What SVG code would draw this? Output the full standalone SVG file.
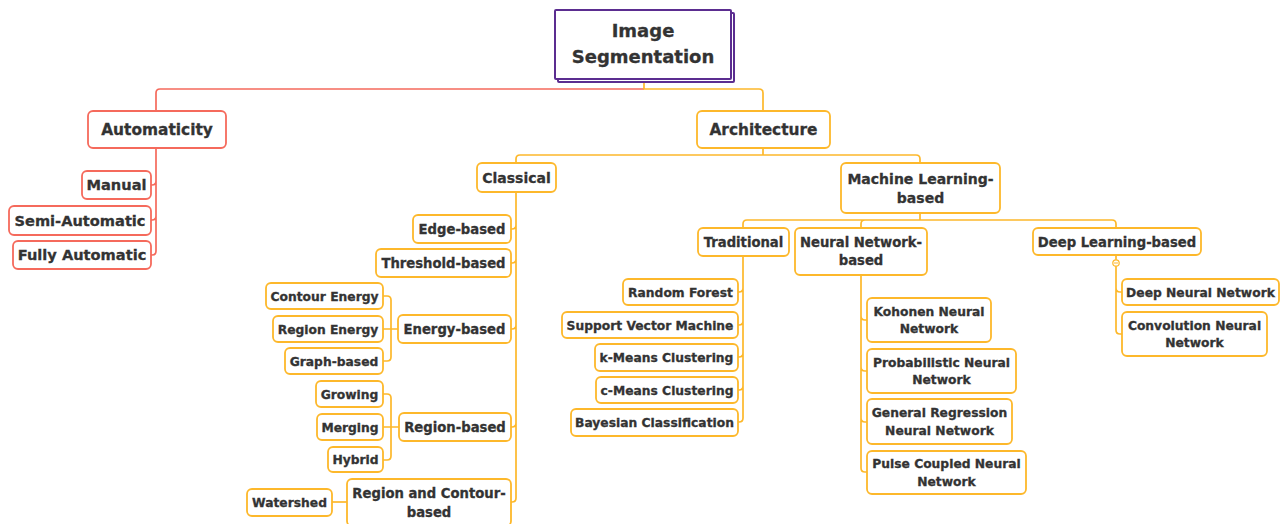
<svg xmlns="http://www.w3.org/2000/svg" width="1282" height="524" viewBox="0 0 1282 524">
<style>
text{font-family:"DejaVu Sans","Open Sans",sans-serif;font-weight:bold;fill:#333;stroke:#333;stroke-width:0.3;text-anchor:middle}
.r{fill:#fff;stroke:#f56a5c;stroke-width:1.8}
.o{fill:#fff;stroke:#fdb82b;stroke-width:1.8}
.lr{fill:none;stroke:#f56a5c;stroke-width:1.7}
.lo{fill:none;stroke:#fdb82b;stroke-width:1.7}
.t0{font-size:18px}
.t1{font-size:15.4px}
.t2{font-size:14px}
.t2a{font-size:14.6px}
.t3{font-size:13.2px}
.t4{font-size:12.3px}
</style>
<rect width="1282" height="524" fill="#fff"/>
<g id="connectors">
<path class="lr" d="M644 89 H160 Q156 89 156 93 V111"/>
<path class="lo" d="M644 79 V89 H759 Q763 89 763 93 V111"/>
<path class="lr" d="M156 148 V251 Q156 255 152 255 H151 M156 181 Q156 185 152 185 H151 M156 216 Q156 220 152 220 H151"/>
<path class="lo" d="M763 148 V155 M516 163 V159 Q516 155 520 155 H916 Q920 155 920 159 V163"/>
<path class="lo" d="M516 192 V498 Q516 502 512 502 H511 M516 225 Q516 229 512 229 H511 M516 259 Q516 263 512 263 H511 M516 325 Q516 329 512 329 H511 M516 423 Q516 427 512 427 H511"/>
<path class="lo" d="M398 329 H383 M383 296 H387 Q391 296 391 300 V357 Q391 361 387 361 H383"/>
<path class="lo" d="M399 427 H383 M383 394 H387 Q391 394 391 398 V456 Q391 460 387 460 H383"/>
<path class="lo" d="M347 502 H332"/>
<path class="lo" d="M920 213 V220 M743 228 V224 Q743 220 747 220 H1112 Q1116 220 1116 224 V228 M861 228 V224 Q861 220 865 220"/>
<path class="lo" d="M743 256 V418 Q743 422 739 422 H738 M743 288 Q743 292 739 292 H738 M743 321 Q743 325 739 325 H738 M743 353 Q743 357 739 357 H738 M743 386 Q743 390 739 390 H738"/>
<path class="lo" d="M861 275 V468 Q861 472 865 472 H867 M861 316 Q861 320 865 320 H867 M861 367 Q861 371 865 371 H867 M861 418 Q861 422 865 422 H867"/>
<path class="lo" d="M1116 255 V330 Q1116 334 1120 334 H1122 M1116 288 Q1116 292 1120 292 H1122"/>
<circle cx="1116" cy="263" r="3.2" fill="#fff" stroke="#fdb82b" stroke-width="1.2"/>
<path d="M1114 263 H1118" stroke="#fdb82b" stroke-width="1"/>
</g>
<g id="root">
<rect x="558" y="13" width="176" height="69" rx="1" fill="#fff" stroke="#5b2d90" stroke-width="2"/>
<rect x="555" y="10" width="176" height="69" rx="1" fill="#fff" stroke="#5b2d90" stroke-width="2"/>
<text class="t0" x="643" y="37">Image</text>
<text class="t0" x="643" y="63">Segmentation</text>
</g>
<g id="automaticity"><rect class="r" x="88" y="111" width="138" height="37" rx="5"/><text class="t1" x="157" y="135">Automaticity</text></g>
<g id="manual"><rect class="r" x="82" y="171" width="69" height="28" rx="5"/><text class="t2a" x="116.5" y="190">Manual</text></g>
<g id="semi"><rect class="r" x="9" y="206" width="142" height="29" rx="5"/><text class="t2a" x="80" y="225.5">Semi-Automatic</text></g>
<g id="fully"><rect class="r" x="13" y="241" width="138" height="28" rx="5"/><text class="t2a" x="82" y="260">Fully Automatic</text></g>
<g id="architecture"><rect class="o" x="697" y="111" width="133" height="37" rx="5"/><text class="t1" x="763.5" y="135">Architecture</text></g>
<g id="classical"><rect class="o" x="477" y="163" width="79" height="29" rx="5"/><text class="t2" x="516.5" y="182.5">Classical</text></g>
<g id="ml"><rect class="o" x="841" y="163" width="159" height="50" rx="5"/><text class="t2" x="920.5" y="183.5">Machine Learning-</text><text class="t2" x="920.5" y="202.5">based</text></g>
<g id="edge"><rect class="o" x="413" y="215" width="98" height="28" rx="5"/><text class="t3" x="462" y="234">Edge-based</text></g>
<g id="threshold"><rect class="o" x="376" y="249" width="135" height="28" rx="5"/><text class="t3" x="443.5" y="268">Threshold-based</text></g>
<g id="energy"><rect class="o" x="398" y="315" width="113" height="28" rx="5"/><text class="t3" x="454.5" y="334">Energy-based</text></g>
<g id="region"><rect class="o" x="399" y="413" width="112" height="28" rx="5"/><text class="t3" x="455" y="432">Region-based</text></g>
<g id="regioncontour"><rect class="o" x="347" y="479" width="164" height="47" rx="5"/><text class="t3" x="429" y="498">Region and Contour-</text><text class="t3" x="429" y="517">based</text></g>
<g id="contourenergy"><rect class="o" x="266" y="283" width="117" height="26" rx="5"/><text class="t4" x="324.5" y="300.5">Contour Energy</text></g>
<g id="regionenergy"><rect class="o" x="273" y="316" width="110" height="26" rx="5"/><text class="t4" x="328" y="333.5">Region Energy</text></g>
<g id="graph"><rect class="o" x="285" y="348" width="98" height="26" rx="5"/><text class="t4" x="334" y="365.5">Graph-based</text></g>
<g id="growing"><rect class="o" x="316" y="381" width="67" height="26" rx="5"/><text class="t4" x="349.5" y="398.5">Growing</text></g>
<g id="merging"><rect class="o" x="317" y="414" width="66" height="26" rx="5"/><text class="t4" x="350" y="431.5">Merging</text></g>
<g id="hybrid"><rect class="o" x="328" y="447" width="55" height="25" rx="5"/><text class="t4" x="355.5" y="464">Hybrid</text></g>
<g id="watershed"><rect class="o" x="247" y="489" width="85" height="27" rx="5"/><text class="t4" x="289.5" y="507">Watershed</text></g>
<g id="traditional"><rect class="o" x="698" y="228" width="91" height="28" rx="5"/><text class="t3" x="743.5" y="247">Traditional</text></g>
<g id="nn"><rect class="o" x="795" y="228" width="132" height="47" rx="5"/><text class="t3" x="861" y="247">Neural Network-</text><text class="t3" x="861" y="265">based</text></g>
<g id="dl"><rect class="o" x="1033" y="228" width="168" height="27" rx="5"/><text class="t3" x="1117" y="246.5">Deep Learning-based</text></g>
<g id="rf"><rect class="o" x="623" y="279" width="115" height="26" rx="5"/><text class="t4" x="680.5" y="296.5">Random Forest</text></g>
<g id="svm"><rect class="o" x="562" y="312" width="176" height="26" rx="5"/><text class="t4" x="650" y="329.5">Support Vector Machine</text></g>
<g id="kmeans"><rect class="o" x="595" y="344" width="143" height="27" rx="5"/><text class="t4" x="666.5" y="362">k-Means Clustering</text></g>
<g id="cmeans"><rect class="o" x="596" y="377" width="142" height="26" rx="5"/><text class="t4" x="667" y="394.5">c-Means Clustering</text></g>
<g id="bayes"><rect class="o" x="571" y="409" width="167" height="27" rx="5"/><text class="t4" x="654.5" y="427">Bayesian Classification</text></g>
<g id="kohonen"><rect class="o" x="867" y="298" width="124" height="44" rx="5"/><text class="t4" x="929" y="315.7">Kohonen Neural</text><text class="t4" x="929" y="333.2">Network</text></g>
<g id="prob"><rect class="o" x="867" y="349" width="149" height="44" rx="5"/><text class="t4" x="941.5" y="366.8">Probabilistic Neural</text><text class="t4" x="941.5" y="384.3">Network</text></g>
<g id="grnn"><rect class="o" x="867" y="399" width="145" height="45" rx="5"/><text class="t4" x="939.5" y="417.3">General Regression</text><text class="t4" x="939.5" y="434.8">Neural Network</text></g>
<g id="pcnn"><rect class="o" x="867" y="451" width="159" height="43" rx="5"/><text class="t4" x="946.5" y="468.3">Pulse Coupled Neural</text><text class="t4" x="946.5" y="485.8">Network</text></g>
<g id="dnn"><rect class="o" x="1122" y="279" width="157" height="26" rx="5"/><text class="t4" x="1200.5" y="296.5">Deep Neural Network</text></g>
<g id="cnn"><rect class="o" x="1122" y="312" width="145" height="44" rx="5"/><text class="t4" x="1194.5" y="329.8">Convolution Neural</text><text class="t4" x="1194.5" y="347.3">Network</text></g>
</svg>
